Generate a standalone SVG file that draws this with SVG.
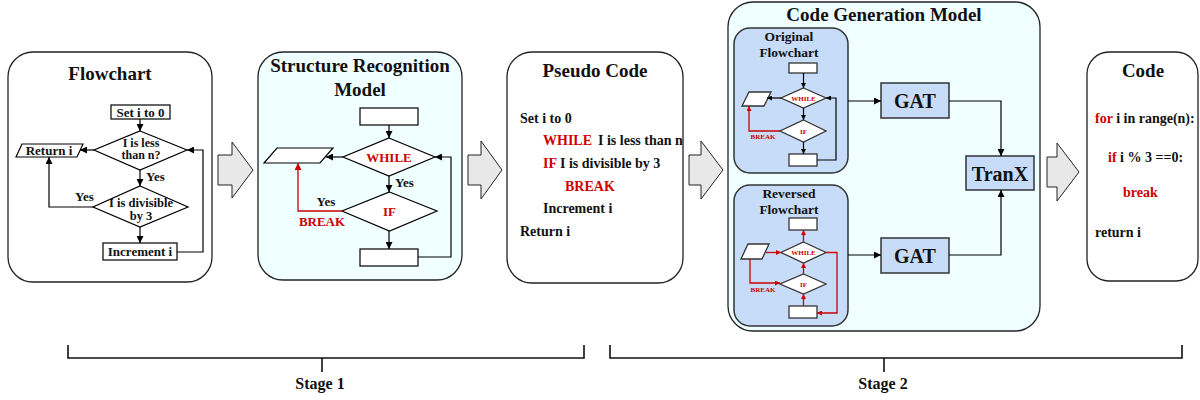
<svg xmlns="http://www.w3.org/2000/svg" width="1200" height="400" viewBox="0 0 1200 400">
<style>
.t{font-family:"Liberation Serif",serif;font-weight:bold;fill:#111}
.c{text-anchor:middle}
.r{fill:#cc0000}
.panel{stroke:#222;stroke-width:1.3}
.box{fill:#fff;stroke:#000;stroke-width:1.2}
.sbox{fill:#fff;stroke:#333;stroke-width:1.3}
.ln{fill:none;stroke:#000;stroke-width:1.2}
.lr{fill:none;stroke:#cc0000;stroke-width:1.3}
.sub{fill:#c6dcf8;stroke:#333;stroke-width:1.5}
.big{fill:#e8e8e8;stroke:#222;stroke-width:1}
.brk{fill:none;stroke:#111;stroke-width:1.6}
</style>
<defs>
<marker id="a" viewBox="0 0 10 10" refX="10" refY="5" markerWidth="7" markerHeight="7" markerUnits="userSpaceOnUse" orient="auto"><path d="M0,0 L10,5 L0,10 z" fill="#000"/></marker>
<marker id="ar" viewBox="0 0 10 10" refX="10" refY="5" markerWidth="7" markerHeight="7" markerUnits="userSpaceOnUse" orient="auto"><path d="M0,0 L10,5 L0,10 z" fill="#cc0000"/></marker>
<marker id="as" viewBox="0 0 10 10" refX="10" refY="5" markerWidth="5" markerHeight="5" markerUnits="userSpaceOnUse" orient="auto"><path d="M0,0 L10,5 L0,10 z" fill="#000"/></marker>
<marker id="asr" viewBox="0 0 10 10" refX="10" refY="5" markerWidth="5" markerHeight="5" markerUnits="userSpaceOnUse" orient="auto"><path d="M0,0 L10,5 L0,10 z" fill="#cc0000"/></marker>
</defs>

<!-- Panel 1: Flowchart -->
<g id="flowchart">
<rect class="panel" x="8" y="52" width="204" height="230" rx="25" fill="#fff"/>
<text class="t c" x="110" y="80" font-size="19">Flowchart</text>
<rect class="box" x="111" y="105" width="59" height="14"/>
<text class="t c" x="140.5" y="116.5" font-size="13">Set i to 0</text>
<polygon class="box" points="140,131 187,150 140,170 94,150"/>
<text class="t c" x="141" y="146.5" font-size="12">I is less</text>
<text class="t c" x="141" y="159" font-size="12">than n?</text>
<polygon class="box" points="22,144 83,144 77,157 16,157"/>
<text class="t c" x="49" y="155" font-size="13">Return i</text>
<polygon class="box" points="140,186 188,207 140,227 93,207"/>
<text class="t c" x="141" y="207" font-size="12.5">I is divisible</text>
<text class="t c" x="141" y="219.5" font-size="12.5">by 3</text>
<rect class="box" x="103" y="243" width="74" height="17"/>
<text class="t c" x="140" y="256" font-size="13">Increment i</text>
<text class="t" x="146" y="181" font-size="13">Yes</text>
<text class="t" x="75" y="201" font-size="13">Yes</text>
</g>

<!-- Panel 2: Structure Recognition Model -->
<g id="structure">
<rect class="panel" x="258" y="52" width="204" height="228" rx="25" fill="#f0ffff"/>
<text class="t c" x="360" y="72" font-size="19">Structure Recognition</text>
<text class="t c" x="360" y="96" font-size="19">Model</text>
<rect class="box" x="360" y="108" width="58" height="17"/>
<polygon class="box" points="389,138 435,157 389,176 343,157"/>
<text class="t c r" x="389" y="161.5" font-size="13">WHILE</text>
<polygon class="box" points="277,148 333,148 320,163 264,163"/>
<polygon class="box" points="389.5,192 437,211 389.5,231 342,211"/>
<text class="t c r" x="389.5" y="216" font-size="13">IF</text>
<rect class="box" x="360" y="249" width="58" height="17"/>
<text class="t" x="395" y="187" font-size="13">Yes</text>
<text class="t c" x="326" y="206" font-size="13">Yes</text>
<text class="t c r" x="322" y="226" font-size="13">BREAK</text>
</g>

<!-- Panel 3: Pseudo Code -->
<g id="pseudo">
<rect class="panel" x="507" y="52" width="176" height="231" rx="25" fill="#fff"/>
<text class="t c" x="595" y="77" font-size="19">Pseudo Code</text>
<text class="t" x="520" y="123" font-size="14">Set i to 0</text>
<text class="t" x="543" y="145" font-size="14"><tspan class="r">WHILE</tspan><tspan dx="6">I is less than n</tspan></text>
<text class="t" x="543" y="168" font-size="14"><tspan class="r">IF</tspan> I is divisible by 3</text>
<text class="t r" x="565" y="191" font-size="14">BREAK</text>
<text class="t" x="543" y="213" font-size="14">Increment i</text>
<text class="t" x="520" y="236" font-size="14">Return i</text>
</g>

<!-- Panel 4: Code Generation Model -->
<g id="codegen">
<rect class="panel" x="728" y="2" width="312" height="329" rx="25" fill="#f0ffff"/>
<text class="t c" x="884" y="21" font-size="19">Code Generation Model</text>
</g>
<g id="original">
<rect class="sub" x="734" y="28" width="114" height="145" rx="16"/>
<text class="t c" x="789" y="41" font-size="13.5">Original</text>
<text class="t c" x="789" y="57" font-size="13.5">Flowchart</text>
<rect class="sbox" x="789" y="63" width="28" height="10"/>
<polygon class="sbox" points="803.5,88 826,98 803.5,108 781,98"/>
<text class="t c r" x="803.5" y="100.5" font-size="7">WHILE</text>
<polygon class="sbox" points="749,92 771,92 764,106 742,106"/>
<polygon class="sbox" points="803.5,120 826,131 803.5,142 780,131"/>
<text class="t c r" x="803.5" y="133.5" font-size="7">IF</text>
<rect class="sbox" x="789" y="154" width="28" height="12"/>
<text class="t c r" x="763" y="139" font-size="7">BREAK</text>
</g>
<g id="reversed">
<rect class="sub" x="734" y="185" width="114" height="141" rx="16"/>
<text class="t c" x="789" y="198" font-size="13.5">Reversed</text>
<text class="t c" x="789" y="214" font-size="13.5">Flowchart</text>
<rect class="sbox" x="789" y="218" width="28" height="12"/>
<polygon class="sbox" points="803.5,242 826,252.5 803.5,263 781,252.5"/>
<text class="t c r" x="803.5" y="255" font-size="7">WHILE</text>
<polygon class="sbox" points="748,244 769,244 762,259 741,259"/>
<polygon class="sbox" points="803.5,274 826,284 803.5,294 780,284"/>
<text class="t c r" x="803.5" y="286.5" font-size="7">IF</text>
<rect class="sbox" x="789" y="306" width="28" height="12"/>
<text class="t c r" x="763" y="292" font-size="7">BREAK</text>
</g>
<g id="gat1">
<rect class="sub" x="881" y="83" width="68" height="35" stroke-width="1.3"/>
<text class="t c" x="915" y="108" font-size="20">GAT</text>
</g>
<g id="gat2">
<rect class="sub" x="881" y="238" width="68" height="35" stroke-width="1.3"/>
<text class="t c" x="915" y="263" font-size="20">GAT</text>
</g>
<g id="tranx">
<rect class="sub" x="966" y="156" width="68" height="34" stroke-width="1.3"/>
<text class="t c" x="1000" y="180.5" font-size="20">TranX</text>
</g>

<!-- Panel 5: Code -->
<g id="code">
<rect class="panel" x="1087" y="52" width="111" height="229" rx="22" fill="#fff"/>
<text class="t c" x="1143" y="77" font-size="19">Code</text>
<text class="t" x="1095" y="123" font-size="14"><tspan class="r">for</tspan> i in range(n):</text>
<text class="t" x="1108" y="162" font-size="14"><tspan class="r">if</tspan> i % 3 ==0:</text>
<text class="t r" x="1123" y="197" font-size="14">break</text>
<text class="t" x="1095" y="237" font-size="14">return i</text>
</g>

<!-- Big arrows -->
<g id="stage-arrows">
<path class="big" d="M218,155 H232 V142 L253,170 L232,198 V185 H218 Z"/>
<path class="big" d="M468,155 H481 V141 L502,170 L481,199 V185 H468 Z"/>
<path class="big" d="M689,155 H701 V141 L723,170 L701,199 V185 H689 Z"/>
<path class="big" d="M1047,157 H1057 V143 L1079,172 L1057,201 V187 H1047 Z"/>
</g>

<!-- Connectors -->
<g id="connectors">
<line class="ln" x1="140" y1="119" x2="140" y2="131" marker-end="url(#a)"/>
<line class="ln" x1="140" y1="170" x2="140" y2="186" marker-end="url(#a)"/>
<line class="ln" x1="94" y1="150" x2="80" y2="150" marker-end="url(#a)"/>
<path class="ln" d="M93,207 H49 V157" marker-end="url(#a)"/>
<line class="ln" x1="140" y1="227" x2="140" y2="243" marker-end="url(#a)"/>
<path class="ln" d="M177,252 H203 V150 H187" marker-end="url(#a)"/>

<line class="ln" x1="389" y1="125" x2="389" y2="138" marker-end="url(#a)"/>
<line class="ln" x1="343" y1="157" x2="326" y2="157" marker-end="url(#a)"/>
<path class="lr" d="M342,211 H298 V163" marker-end="url(#ar)"/>
<line class="ln" x1="389" y1="176" x2="389" y2="192" marker-end="url(#a)"/>
<line class="ln" x1="389" y1="231" x2="389" y2="249" marker-end="url(#a)"/>
<path class="ln" d="M418,257 H451 V157 H435" marker-end="url(#a)"/>

<line class="ln" x1="803.5" y1="73" x2="803.5" y2="88" marker-end="url(#as)"/>
<line class="ln" x1="781" y1="98" x2="767" y2="98" marker-end="url(#as)"/>
<path class="lr" d="M780,131 H749 V106" marker-end="url(#asr)"/>
<line class="ln" x1="803.5" y1="108" x2="803.5" y2="120" marker-end="url(#as)"/>
<line class="ln" x1="803.5" y1="142" x2="803.5" y2="154" marker-end="url(#as)"/>
<path class="ln" d="M817,160 H836 V98 H826" marker-end="url(#as)"/>

<line class="lr" x1="803.5" y1="242" x2="803.5" y2="230" marker-end="url(#asr)"/>
<line class="lr" x1="766" y1="252.5" x2="781" y2="252.5" marker-end="url(#asr)"/>
<path class="lr" d="M750,259 V283 H780" marker-end="url(#asr)"/>
<line class="lr" x1="803.5" y1="274" x2="803.5" y2="263" marker-end="url(#asr)"/>
<line class="lr" x1="803.5" y1="306" x2="803.5" y2="294" marker-end="url(#asr)"/>
<path class="lr" d="M826,252.5 H837 V313 H817" marker-end="url(#asr)"/>

<line class="ln" x1="848" y1="101" x2="881" y2="101" marker-end="url(#a)"/>
<line class="ln" x1="848" y1="255" x2="881" y2="255" marker-end="url(#a)"/>
<path class="ln" d="M949,101 H1001 V156" marker-end="url(#a)"/>
<path class="ln" d="M949,255 H1001 V190" marker-end="url(#a)"/>
</g>

<!-- Stage brackets -->
<g id="stage1">
<path class="brk" d="M68,345 V358 H584 V345 M322,358 V372"/>
<text class="t c" x="320" y="389" font-size="16">Stage 1</text>
</g>
<g id="stage2">
<path class="brk" d="M610,345 V358 H1182 V345 M884,358 V372"/>
<text class="t c" x="883" y="389" font-size="16">Stage 2</text>
</g>
</svg>
